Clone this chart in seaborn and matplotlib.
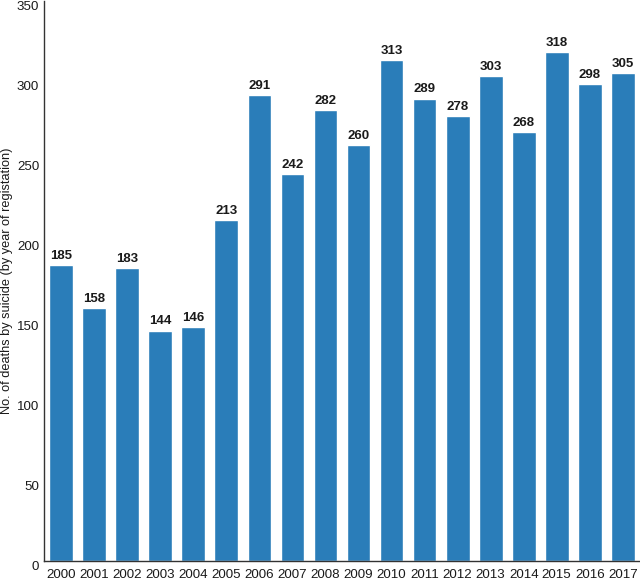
import matplotlib
matplotlib.use("Agg")
import matplotlib.pyplot as plt
import seaborn as sns
import pandas as pd

years = ["2000", "2001", "2002", "2003", "2004", "2005", "2006", "2007", "2008",
         "2009", "2010", "2011", "2012", "2013", "2014", "2015", "2016", "2017"]
deaths = [185, 158, 183, 144, 146, 213, 291, 242, 282, 260, 313, 289, 278, 303, 268, 318, 298, 305]
y_ticks = [0, 50, 100, 150, 200, 250, 300, 350]
y_label = "No. of deaths by suicide (by year of registation)"

sns.set_theme(style="white")
plt.rcParams["font.family"] = ["Liberation Sans", "DejaVu Sans"]

df = pd.DataFrame({"year": years, "deaths": deaths})

fig = plt.figure(figsize=(6.4, 5.84), dpi=100)
ax = fig.add_axes([44 / 640, 23 / 584, 596 / 640, 560 / 584])

sns.barplot(data=df, x="year", y="deaths", color="#2a7db9", saturation=1,
            width=0.72, ax=ax)

for i, v in enumerate(deaths):
    ax.text(i, v + 2, str(v), ha="center", va="bottom", fontsize=9.5,
            fontweight="bold", family=["Liberation Sans Narrow", "Liberation Sans"],
            color="#1a1a1a")

ax.set_xlim(-0.52, 17.52)
ax.set_ylim(0, 350)
ax.set_yticks(y_ticks)
ax.set_yticklabels([str(t) for t in y_ticks], va="top")
ax.set_xlabel("")
ax.set_ylabel(y_label, fontsize=9.2, color="#1a1a1a")
ax.yaxis.set_label_coords(-31 / 596, 0.5)
ax.tick_params(axis="both", length=0, labelsize=9.6, colors="#1a1a1a")
ax.tick_params(axis="y", pad=3.5)
ax.tick_params(axis="x", pad=6)

for s in ["top", "right"]:
    ax.spines[s].set_visible(False)
for s in ["left", "bottom"]:
    ax.spines[s].set_color("#333333")
    ax.spines[s].set_linewidth(1.0)

fig.savefig("out.png", dpi=100)
